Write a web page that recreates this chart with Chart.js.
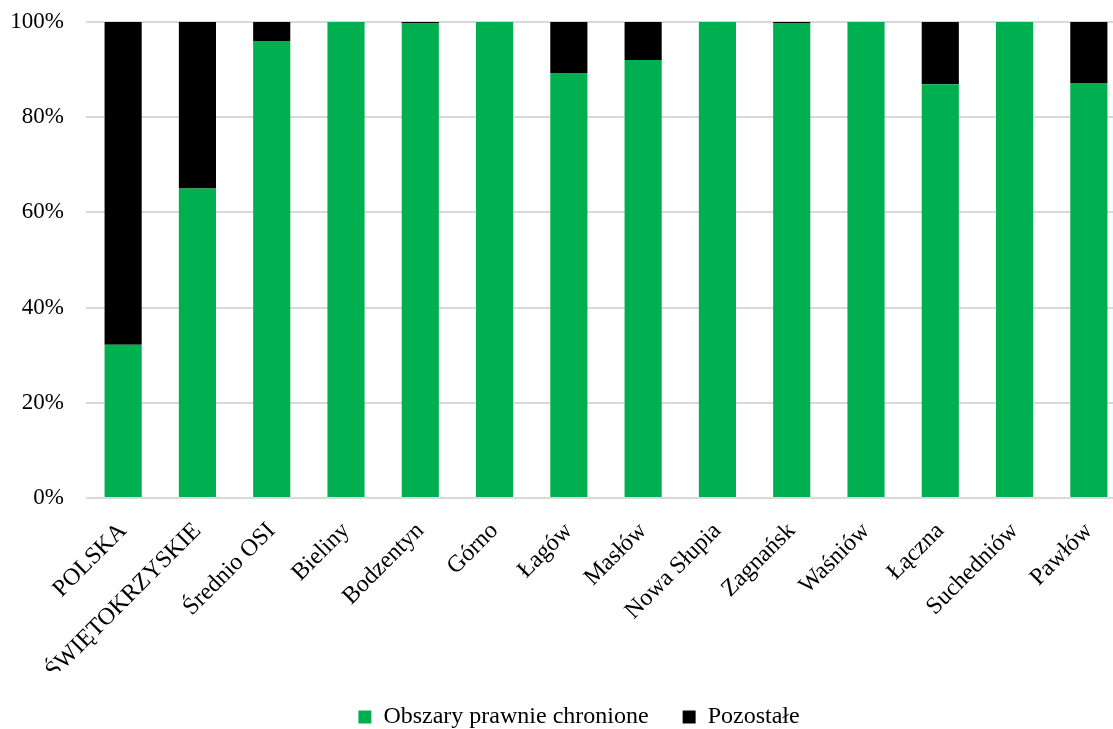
<!DOCTYPE html>
<html lang="pl">
<head>
<meta charset="UTF-8" />
<title>Obszary prawnie chronione</title>
<script src="https://cdn.jsdelivr.net/npm/chart.js@4.4.1/dist/chart.umd.min.js"></script>
<style>
	html, body { margin: 0; padding: 0; background: #fff; overflow: hidden; }
	#box { position: relative; width: 1126px; height: 729px; }
</style>
</head>
<body>
<div id="box"><canvas id="myChart"></canvas></div>
<script>
	const gminy = ['POLSKA', 'ŚWIĘTOKRZYSKIE', 'Średnio OSI', 'Bieliny', 'Bodzentyn', 'Górno', 'Łagów',
		'Masłów', 'Nowa Słupia', 'Zagnańsk', 'Waśniów', 'Łączna', 'Suchedniów', 'Pawłów'];
	const chronione = [32.2, 65.0, 96.0, 100, 99.7, 100, 89.3, 92.0, 100, 99.8, 100, 86.9, 100, 87.2];
	const pozostale = [67.8, 35.0, 4.0, 0, 0.3, 0, 10.7, 8.0, 0, 0.2, 0, 13.1, 0, 12.8];
	const yTicks = [0, 20, 40, 60, 80, 100];

	const serif = "'Liberation Serif', 'Times New Roman', serif";

	// legenda w Excelu jest troche przesunieta w prawo
	const legendShift = {
		id: 'legendShift',
		afterUpdate(chart) {
			chart.legend.left += 16;
			chart.legend.right += 16;
		}
	};

	const ctx = document.getElementById('myChart').getContext('2d');
	const chart = new Chart(ctx, {
		type: 'bar',
		data: {
			labels: gminy,
			datasets: [{
				label: 'Obszary prawnie chronione',
				data: chronione,
				backgroundColor: '#00B050',
				borderWidth: 0,
				barPercentage: 0.5,
				categoryPercentage: 1
			}, {
				label: 'Pozostałe',
				data: pozostale,
				backgroundColor: '#000000',
				borderWidth: 0,
				barPercentage: 0.5,
				categoryPercentage: 1
			}]
		},
		plugins: [legendShift],
		options: {
			responsive: true,
			maintainAspectRatio: false,
			animation: false,
			layout: { padding: { left: 0, right: 0, top: 22, bottom: -10 } },
			plugins: {
				legend: {
					position: 'bottom',
					labels: {
						font: { family: serif, size: 24 },
						color: '#000',
						boxWidth: 13,
						boxHeight: 13,
						padding: 34
					}
				},
				tooltip: { enabled: false }
			},
			scales: {
				x: {
					stacked: true,
					grid: { display: false },
					border: { display: false },
					afterFit: (axis) => { axis.height = 173; },
					ticks: {
						font: { family: serif, size: 24 },
						color: '#000',
						minRotation: 45,
						maxRotation: 45,
						autoSkip: false,
						padding: 11
					}
				},
				y: {
					stacked: true,
					min: 0,
					max: 100,
					afterBuildTicks: (axis) => { axis.ticks = yTicks.map(v => ({ value: v })); },
					afterFit: (axis) => {
						axis.width = 86;
						axis.paddingTop = 0;
						axis.paddingBottom = 0;
					},
					grid: { color: '#d9d9d9', lineWidth: 2, drawTicks: false },
					border: { display: false },
					ticks: {
						font: { family: serif, size: 23 },
						color: '#000',
						padding: 22,
						callback: (v) => v + '%'
					}
				}
			}
		}
	});
</script>
</body>
</html>
